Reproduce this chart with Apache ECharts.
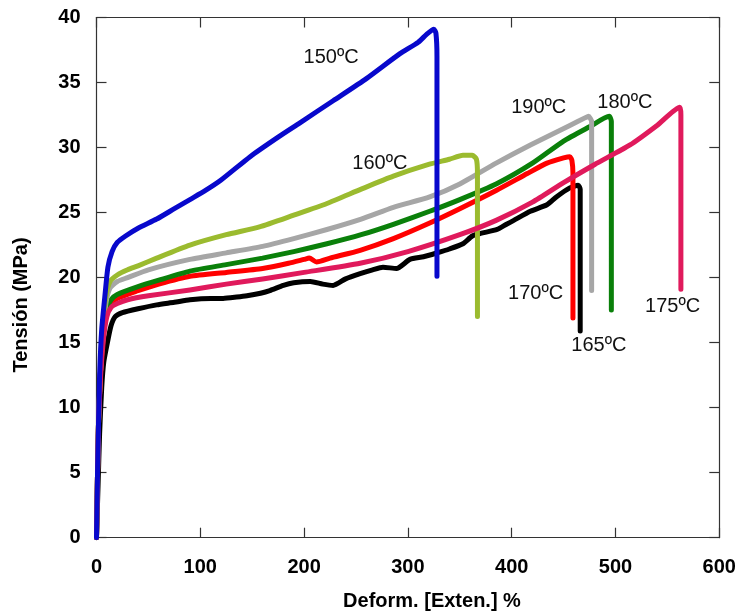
<!DOCTYPE html>
<html>
<head>
<meta charset="utf-8">
<script src="https://cdn.jsdelivr.net/npm/echarts@6/dist/echarts.min.js"></script>
<style>
  html, body { margin: 0; padding: 0; background: #fff; }
  #chart { width: 740px; height: 614px; }
</style>
</head>
<body>
<div id="chart"></div>
<script>
// Stress–strain curves of the film at several processing temperatures
const xTicks = [0, 100, 200, 300, 400, 500, 600];
const yTicks = [0, 5, 10, 15, 20, 25, 30, 35, 40];

// [deformation %, stress MPa]
const t150 = [[0,0],[1,5],[2,9],[3,12.5],[5,16],[8,18.5],[11,20.8],[15,22.0],[20,22.7],[28,23.2],[40,23.8],[58,24.5],[75,25.3],[90,26.0],[105,26.7],[120,27.5],[148,29.3],[175,30.8],[196,31.9],[228,33.6],[260,35.3],[292,37.2],[310,38.1],[318,38.7],[325,39.1],[327,38.8],[328,37.0],[328,20.1]];
const t160 = [[0,0],[1,5],[2,9],[4,13],[6,16],[9,18.5],[13,19.7],[20,20.2],[30,20.6],[40,20.9],[58,21.5],[90,22.5],[125,23.3],[157,23.9],[190,24.8],[222,25.7],[255,26.8],[286,27.8],[320,28.7],[340,29.1],[353,29.4],[362,29.4],[366,29.1],[367,28.0],[367,17.0]];
const t165 = [[0,0],[1.5,4],[3,8],[5,11.5],[7,13.5],[11,15.2],[14,16.3],[18,17.0],[25,17.3],[40,17.6],[58,17.9],[75,18.1],[90,18.3],[110,18.4],[122,18.4],[135,18.5],[145,18.6],[158,18.8],[167,19.0],[180,19.4],[190,19.6],[206,19.7],[218,19.5],[228,19.4],[240,19.9],[254,20.3],[266,20.6],[276,20.8],[289,20.7],[302,21.4],[315,21.6],[328,21.9],[340,22.2],[353,22.6],[362,23.2],[370,23.4],[386,23.7],[395,24.1],[402,24.4],[418,25.1],[434,25.6],[443,26.2],[456,26.9],[464,27.1],[466,26.8],[466,15.9]];
const t170 = [[0,0],[1,5],[2,9],[4,13],[7,15.8],[10,17.3],[14,18.0],[20,18.4],[30,18.7],[40,19.0],[60,19.5],[90,20.1],[125,20.4],[160,20.7],[185,21.1],[200,21.4],[205,21.5],[212,21.2],[225,21.5],[254,22.1],[286,23.0],[321,24.2],[350,25.3],[385,26.7],[415,28.0],[434,28.8],[450,29.2],[456,29.3],[458,29.0],[459,28.0],[459,16.9]];
const t175 = [[0,0],[1,5],[2,9],[4,12.5],[7,15.5],[10,17.0],[14,17.7],[20,18.0],[30,18.3],[50,18.6],[90,19.05],[125,19.5],[160,19.9],[200,20.4],[254,21.1],[300,22.0],[350,23.3],[385,24.4],[420,25.8],[450,27.3],[480,28.7],[514,30.2],[540,31.7],[562,33.1],[563,32.5],[563,19.1]];
const t180 = [[0,0],[1,5],[2,9],[4,13],[7,16],[10,17.6],[14,18.3],[20,18.7],[40,19.3],[60,19.8],[90,20.5],[125,21.0],[160,21.5],[190,22.0],[222,22.6],[255,23.3],[286,24.1],[321,25.1],[350,26.0],[385,27.2],[420,28.8],[450,30.5],[475,31.6],[494,32.4],[496,32.0],[496,17.5]];
const t190 = [[0,0],[1,5],[2,9],[4,13],[6,15.5],[9,18],[13,19.2],[20,19.7],[30,20.0],[50,20.6],[90,21.4],[125,21.9],[160,22.4],[190,23.0],[222,23.7],[255,24.5],[286,25.4],[321,26.2],[350,27.2],[385,28.8],[418,30.2],[456,31.7],[471,32.3],[474,32.4],[477,32.0],[477,19.0]];

// curve name tags: [x, y, text]
const curveTags = [
  [226, 36.9, '150ºC'],
  [273, 28.8, '160ºC'],
  [484, 14.75, '165ºC'],
  [423, 18.75, '170ºC'],
  [555, 17.75, '175ºC'],
  [509, 33.5, '180ºC'],
  [426, 33.05, '190ºC']
];

const xTitle = 'Deform. [Exten.] %';
const yTitle = 'Tensión (MPa)';

const FONT = 'Liberation Sans, Arial, sans-serif';
const chart = echarts.init(document.getElementById('chart'), null, { renderer: 'canvas' });

function curve(name, data, color, z) {
  return {
    name, type: 'line', data, showSymbol: false, symbol: 'none',
    smooth: 0.2,
    xAxisIndex: 0, yAxisIndex: 0, z,
    lineStyle: { color, width: 5, join: 'round', cap: 'round' },
    animation: false
  };
}

const axisLine = { show: true, onZero: false, lineStyle: { color: '#333', width: 1.2 } };
const tick = { show: true, inside: true, length: 10, lineStyle: { color: '#333', width: 1.2 } };
const tickLabel = { color: '#000', fontFamily: FONT, fontWeight: 'bold', fontSize: 20 };

chart.setOption({
  animation: false,
  backgroundColor: '#fff',
  grid: { left: 96.5, right: 20.7, top: 17.5, bottom: 76.3, containLabel: false },
  xAxis: [
    { type: 'value', min: xTicks[0], max: xTicks[xTicks.length - 1], interval: 100, position: 'bottom',
      axisLine, axisTick: tick, splitLine: { show: false },
      axisLabel: Object.assign({ margin: 20, formatter: v => xTicks.includes(v) ? String(v) : '' }, tickLabel) },
    { type: 'value', min: xTicks[0], max: xTicks[xTicks.length - 1], interval: 100, position: 'top',
      axisLine, axisTick: tick, splitLine: { show: false }, axisLabel: { show: false } }
  ],
  yAxis: [
    { type: 'value', min: yTicks[0], max: yTicks[yTicks.length - 1], interval: 5, position: 'left',
      axisLine, axisTick: tick, splitLine: { show: false },
      axisLabel: Object.assign({ margin: 16, formatter: v => yTicks.includes(v) ? String(v) : '' }, tickLabel) },
    { type: 'value', min: yTicks[0], max: yTicks[yTicks.length - 1], interval: 5, position: 'right',
      axisLine, axisTick: tick, splitLine: { show: false }, axisLabel: { show: false } }
  ],
  series: [
    curve('165ºC', t165, '#000000', 2),
    curve('170ºC', t170, '#ff0000', 3),
    curve('180ºC', t180, '#0a800a', 4),
    curve('190ºC', t190, '#a6a6a6', 5),
    curve('160ºC', t160, '#9bbb2f', 6),
    curve('175ºC', t175, '#e01a5c', 7),
    curve('150ºC', t150, '#0808cc', 8)
  ]
});

// axis titles and curve tags
const graphics = [
  { type: 'text', x: 432, y: 601, style: { text: xTitle, fill: '#000', font: `bold 20px ${FONT}`, textAlign: 'center', textVerticalAlign: 'middle' } },
  { type: 'text', x: 21, y: 305, rotation: Math.PI / 2, style: { text: yTitle, fill: '#000', font: `bold 20px ${FONT}`, textAlign: 'center', textVerticalAlign: 'middle' } }
];
curveTags.forEach(([x, y, text]) => {
  const p = chart.convertToPixel({ xAxisIndex: 0, yAxisIndex: 0 }, [x, y]);
  graphics.push({ type: 'text', x: p[0], y: p[1], z: 20,
    style: { text, fill: '#111', font: `20px ${FONT}`, textAlign: 'center', textVerticalAlign: 'middle' } });
});
chart.setOption({ graphic: graphics });
</script>
</body>
</html>
